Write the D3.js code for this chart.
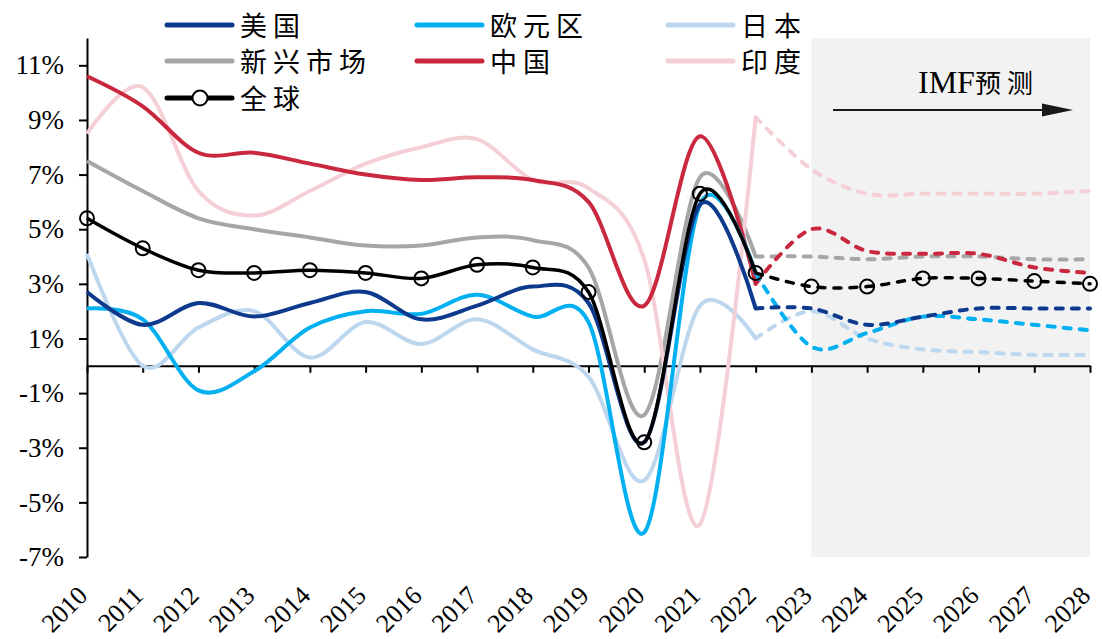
<!DOCTYPE html>
<html>
<head>
<meta charset="utf-8">
<script src="https://cdn.jsdelivr.net/npm/d3@7"></script>
<style>
  body { margin: 0; background: #fff; }
  .tick text { font-family: "Liberation Serif", "Times New Roman", serif; }
</style>
</head>
<body>
<svg id="chart" width="1102" height="639"></svg>
<script>
// years and tick values
const years = d3.range(2010, 2029);
const splitYear = 2022;      // solid up to here, dashed after
const shadeYear = 2023;      // IMF forecast area starts
const yTicks = [-7, -5, -3, -1, 1, 3, 5, 7, 9, 11];

// real GDP growth, %
const usa      = [2.7, 1.5, 2.3, 1.8, 2.3, 2.7, 1.7, 2.2, 2.9, 2.3, -2.8, 5.9, 2.1, 2.1, 1.5, 1.8, 2.1, 2.1, 2.1];
const euro     = [2.1, 1.7, -0.9, -0.2, 1.4, 2.0, 1.9, 2.6, 1.8, 1.6, -6.1, 5.9, 3.4, 0.7, 1.2, 1.8, 1.7, 1.5, 1.3];
const japan    = [4.1, 0.0, 1.4, 2.0, 0.3, 1.6, 0.8, 1.7, 0.6, -0.4, -4.2, 2.2, 1.0, 2.0, 1.0, 0.6, 0.5, 0.4, 0.4];
const emerging = [7.5, 6.4, 5.4, 5.0, 4.7, 4.4, 4.4, 4.7, 4.6, 3.6, -1.8, 6.9, 4.0, 4.0, 3.9, 4.0, 4.0, 3.9, 3.9];
const china    = [10.6, 9.5, 7.8, 7.8, 7.4, 7.0, 6.8, 6.9, 6.8, 6.0, 2.2, 8.4, 3.0, 5.0, 4.2, 4.1, 4.1, 3.6, 3.4];
const india    = [8.5, 10.2, 6.4, 5.5, 6.4, 7.4, 8.0, 8.3, 6.8, 6.5, 3.9, -5.8, 9.1, 7.2, 6.3, 6.3, 6.3, 6.3, 6.4];
const world    = [5.4, 4.3, 3.5, 3.4, 3.5, 3.4, 3.2, 3.7, 3.6, 2.7, -2.8, 6.3, 3.4, 2.9, 2.9, 3.2, 3.2, 3.1, 3.0];

const series = [
    { name: "日本", values: japan, color: "#bdd7ee", width: 4 },
    { name: "新兴市场", values: emerging, color: "#a6a6a6", width: 4 },
    { name: "印度", values: india, color: "#f4cfd6", width: 4 },
    { name: "中国", values: china, color: "#c9283e", width: 4 },
    { name: "欧元区", values: euro, color: "#00b0f0", width: 4 },
    { name: "美国", values: usa, color: "#0d3a8d", width: 4 },
    { name: "全球", values: world, color: "#000000", width: 3.5, marker: true }
];
const legendOrder = ["美国", "欧元区", "日本", "新兴市场", "中国", "印度", "全球"];

const svg = d3.select("#chart");
const x = d3.scaleLinear().domain([2010, 2028]).range([87, 1090]);
const y = d3.scaleLinear().domain([-7, 12]).range([557, 38]);

// forecast shading
svg.append("rect")
    .attr("x", x(shadeYear))
    .attr("y", y(12))
    .attr("width", x(2028) - x(shadeYear))
    .attr("height", y(-7) - y(12))
    .attr("fill", "#f2f2f2");

// x axis along zero
const xAxis = svg.append("g")
    .attr("transform", `translate(0,${y(0)})`)
    .call(d3.axisBottom(x).tickValues(years).tickSize(7).tickSizeOuter(0).tickFormat(""));
xAxis.selectAll("path, line").attr("stroke", "#000").attr("stroke-width", 2);

// y axis
const yAxis = svg.append("g")
    .attr("transform", `translate(${x(2010)},0)`)
    .call(d3.axisLeft(y).tickValues(yTicks).tickSize(8).tickSizeOuter(0).tickPadding(15)
        .tickFormat(d => d + "%"));
yAxis.selectAll("path, line").attr("stroke", "#000").attr("stroke-width", 2);
yAxis.selectAll("text").attr("font-size", 27).attr("fill", "#000");

// rotated year labels at the bottom
svg.append("g").selectAll("text")
    .data(years)
    .join("text")
    .attr("transform", d => `translate(${x(d) + 2},597) rotate(-45)`)
    .attr("text-anchor", "end")
    .attr("font-family", "Liberation Serif, serif")
    .attr("font-size", 26)
    .text(d => d);

// lines
const line = d3.line()
    .x(d => x(d.year))
    .y(d => y(d.value))
    .curve(d3.curveCardinal.tension(0));

const linesGroup = svg.append("g");
series.forEach(s => {
    const pts = years.map((yr, i) => ({ year: yr, value: s.values[i] }));
    const solid = pts.filter(p => p.year <= splitYear);
    const dashed = pts.filter(p => p.year >= splitYear);

    linesGroup.append("path")
        .attr("d", line(solid))
        .attr("fill", "none")
        .attr("stroke", s.color)
        .attr("stroke-width", s.width)
        .attr("stroke-linejoin", "round");

    linesGroup.append("path")
        .attr("d", line(dashed))
        .attr("fill", "none")
        .attr("stroke", s.color)
        .attr("stroke-width", s.width)
        .attr("stroke-linecap", "round")
        .attr("stroke-dasharray", "7,9");

    if (s.marker) {
        linesGroup.selectAll(null)
            .data(pts)
            .join("circle")
            .attr("cx", d => x(d.year))
            .attr("cy", d => y(d.value))
            .attr("r", 7)
            .attr("fill", "none")
            .attr("stroke", "#000")
            .attr("stroke-width", 2);
    }
});

// legend: three columns
const legendCols = [167, 417, 668];
const legendRows = [25, 61, 98];
const legend = svg.append("g");
legendOrder.forEach((name, i) => {
    const s = series.find(d => d.name === name);
    const lx = legendCols[i % 3];
    const ly = legendRows[Math.floor(i / 3)];
    legend.append("line")
        .attr("x1", lx).attr("x2", lx + 65)
        .attr("y1", ly).attr("y2", ly)
        .attr("stroke", s.color)
        .attr("stroke-width", 5)
        .attr("stroke-linecap", "round");
    if (s.marker) {
        legend.append("circle")
            .attr("cx", lx + 33).attr("cy", ly).attr("r", 7.5)
            .attr("fill", "#fff").attr("stroke", "#000").attr("stroke-width", 2);
    }
    legend.append("text")
        .attr("x", lx + 73)
        .attr("y", ly - 1)
        .attr("dominant-baseline", "central")
        .attr("font-family", "Noto Sans CJK SC")
        .attr("font-size", 27)
        .attr("letter-spacing", 6)
        .text(name);
});

// IMF forecast note with arrow
const note = svg.append("text")
    .attr("x", 918)
    .attr("y", 93);
note.append("tspan")
    .attr("font-family", "Liberation Serif, serif")
    .attr("font-size", 32)
    .text("IMF");
note.append("tspan")
    .attr("font-family", "Noto Sans CJK SC")
    .attr("font-size", 26)
    .attr("letter-spacing", 6)
    .text("预测");

svg.append("line")
    .attr("x1", 833).attr("x2", 1046)
    .attr("y1", 110).attr("y2", 110)
    .attr("stroke", "#1a1a1a")
    .attr("stroke-width", 2);
svg.append("path")
    .attr("d", "M1042,103.5L1073,110L1042,116.5Z")
    .attr("fill", "#1a1a1a");
</script>
</body>
</html>
